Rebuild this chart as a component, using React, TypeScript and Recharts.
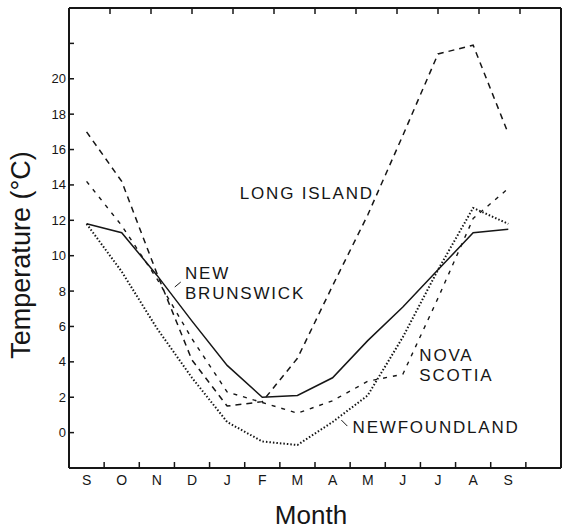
import React from "react";
import { LineChart, Line, XAxis, YAxis, ReferenceDot, ReferenceLine } from "recharts";

const MONTHS = ["S", "O", "N", "D", "J", "F", "M", "A", "M", "J", "J", "A", "S"];

// mean temperatures (°C), September through September
const newBrunswick = [11.8, 11.3, 8.9, 6.3, 3.8, 2.0, 2.1, 3.1, 5.2, 7.1, 9.2, 11.3, 11.5];
const longIsland = [17.0, 14.2, 9.0, 4.1, 1.5, 1.75, 4.2, 8.3, 12.3, 16.8, 21.4, 21.9, 16.9];
const novaScotia = [14.2, 11.7, 8.7, 5.3, 2.3, 1.7, 1.1, 1.8, 2.9, 3.3, 7.6, 12.1, 13.8];
const newfoundland = [11.8, 9.1, 5.9, 3.1, 0.6, -0.5, -0.7, 0.6, 2.1, 5.4, 9.2, 12.7, 11.8];

const Y_TICKS = [0, 2, 4, 6, 8, 10, 12, 14, 16, 18, 20, 22];
const Y_LABEL_MAX = 20;

const data = MONTHS.map((month, i) => ({
    x: i + 0.5,
    month,
    nb: newBrunswick[i],
    li: longIsland[i],
    ns: novaScotia[i],
    nf: newfoundland[i],
}));

// bottom axis: tick marks between months, letters centred in each month
const X_TICKS: number[] = [];
for (let i = 0; i < MONTHS.length; i++) {
    X_TICKS.push(i + 0.5);
    X_TICKS.push(i + 1);
}
const TOP_TICKS = MONTHS.map((_, i) => i + 1);

const LABELS = [
    { text: ["LONG ISLAND"], x: 4.86, y: 13.2 },
    { text: ["NEW", "BRUNSWICK"], x: 3.3, y: 8.7 },
    { text: ["NOVA", "SCOTIA"], x: 9.97, y: 4.07 },
    { text: ["NEWFOUNDLAND"], x: 8.07, y: 0.0 },
];

const LEADERS = [
    { from: { x: 3.01, y: 8.23 }, to: { x: 3.18, y: 8.51 } },
    { from: { x: 7.75, y: 0.71 }, to: { x: 7.92, y: 0.37 } },
];

const FONT = "'Liberation Sans', Arial, sans-serif";
const INK = "#161616";

const BottomTick = (props: any) => {
    const { x, y, payload } = props;
    const v = payload.value;
    if (Number.isInteger(v)) {
        return <line x1={x} y1={y} x2={x} y2={y - 6} stroke={INK} strokeWidth={1.5} />;
    }
    return (
        <text x={x} y={y + 17} textAnchor="middle" fontSize={14} fontFamily={FONT} fill={INK}>
            {MONTHS[Math.floor(v)]}
        </text>
    );
};

const TopTick = (props: any) => {
    const { x, y } = props;
    return <line x1={x} y1={y} x2={x} y2={y + 6} stroke={INK} strokeWidth={1.5} />;
};

const LeftTick = (props: any) => {
    const { x, y, payload } = props;
    return (
        <g>
            <line x1={x} y1={y} x2={x + 5} y2={y} stroke={INK} strokeWidth={1.5} />
            {payload.value <= Y_LABEL_MAX && (
                <text x={x - 3} y={y + 4.5} textAnchor="end" fontSize={13} fontFamily={FONT} fill={INK}>
                    {payload.value}
                </text>
            )}
        </g>
    );
};

const RightTick = (props: any) => {
    const { x, y } = props;
    return <line x1={x} y1={y} x2={x - 5} y2={y} stroke={INK} strokeWidth={1.5} />;
};

const annotation = (lines: string[]) => (p: any) => (
    <text x={p.cx} y={p.cy} fontSize={17} letterSpacing={1.8} fontFamily={FONT} fill={INK}>
        {lines.map((l, i) => (
            <tspan key={i} x={p.cx} dy={i === 0 ? 0 : 20}>
                {l}
            </tspan>
        ))}
    </text>
);

const App: React.FC = () => {
    return (
        <div style={{ position: "absolute", left: 0, top: 0, background: "#fff" }}>
            <LineChart width={562} height={532} data={data} margin={{ top: 0, right: 0, left: 0, bottom: 0 }}>
                <XAxis
                    dataKey="x"
                    type="number"
                    domain={[0, 14]}
                    ticks={X_TICKS}
                    interval={0}
                    height={64}
                    tickSize={0}
                    tickMargin={0}
                    tickLine={false}
                    tick={BottomTick}
                    axisLine={{ stroke: INK, strokeWidth: 2 }}
                    label={(p: any) => {
                        const vb = p.viewBox;
                        return (
                            <text x={vb.x + vb.width / 2 - 4} y={vb.y + 56} textAnchor="middle" fontSize={26} fontFamily={FONT} fill={INK}>
                                Month
                            </text>
                        );
                    }}
                />
                <XAxis
                    xAxisId="top"
                    orientation="top"
                    type="number"
                    domain={[0, 14]}
                    ticks={TOP_TICKS}
                    interval={0}
                    height={8}
                    tickSize={0}
                    tickMargin={0}
                    tickLine={false}
                    tick={TopTick}
                    axisLine={{ stroke: INK, strokeWidth: 2 }}
                />
                <YAxis
                    type="number"
                    domain={[-2, 24]}
                    ticks={Y_TICKS}
                    interval={0}
                    width={69}
                    tickSize={0}
                    tickMargin={0}
                    tickLine={false}
                    tick={LeftTick}
                    axisLine={{ stroke: INK, strokeWidth: 2 }}
                    label={(p: any) => {
                        const vb = p.viewBox;
                        return (
                            <text
                                transform={`translate(${vb.x + 30}, ${vb.y + vb.height / 2 + 17}) rotate(-90)`}
                                textAnchor="middle"
                                fontSize={27}
                                fontFamily={FONT}
                                fill={INK}
                            >
                                Temperature (°C)
                            </text>
                        );
                    }}
                />
                <YAxis
                    yAxisId="right"
                    orientation="right"
                    type="number"
                    domain={[-2, 24]}
                    ticks={Y_TICKS}
                    interval={0}
                    width={1}
                    tickSize={0}
                    tickMargin={0}
                    tickLine={false}
                    tick={RightTick}
                    axisLine={{ stroke: INK, strokeWidth: 2 }}
                />

                <Line dataKey="li" stroke={INK} strokeWidth={1.5} strokeDasharray="6 5" dot={false} isAnimationActive={false} />
                <Line dataKey="ns" stroke={INK} strokeWidth={1.4} strokeDasharray="4 6" dot={false} isAnimationActive={false} />
                <Line dataKey="nf" stroke={INK} strokeWidth={2} strokeDasharray="1.5 2" dot={false} isAnimationActive={false} />
                <Line dataKey="nb" stroke={INK} strokeWidth={1.5} dot={false} isAnimationActive={false} />

                {LEADERS.map((l, i) => (
                    <ReferenceLine
                        key={"leader" + i}
                        segment={[l.from, l.to]}
                        stroke={INK}
                        strokeWidth={1}
                    />
                ))}
                {LABELS.map((l, i) => (
                    <ReferenceDot key={"label" + i} x={l.x} y={l.y} r={0} shape={annotation(l.text)} />
                ))}
            </LineChart>
        </div>
    );
};

export default App;
